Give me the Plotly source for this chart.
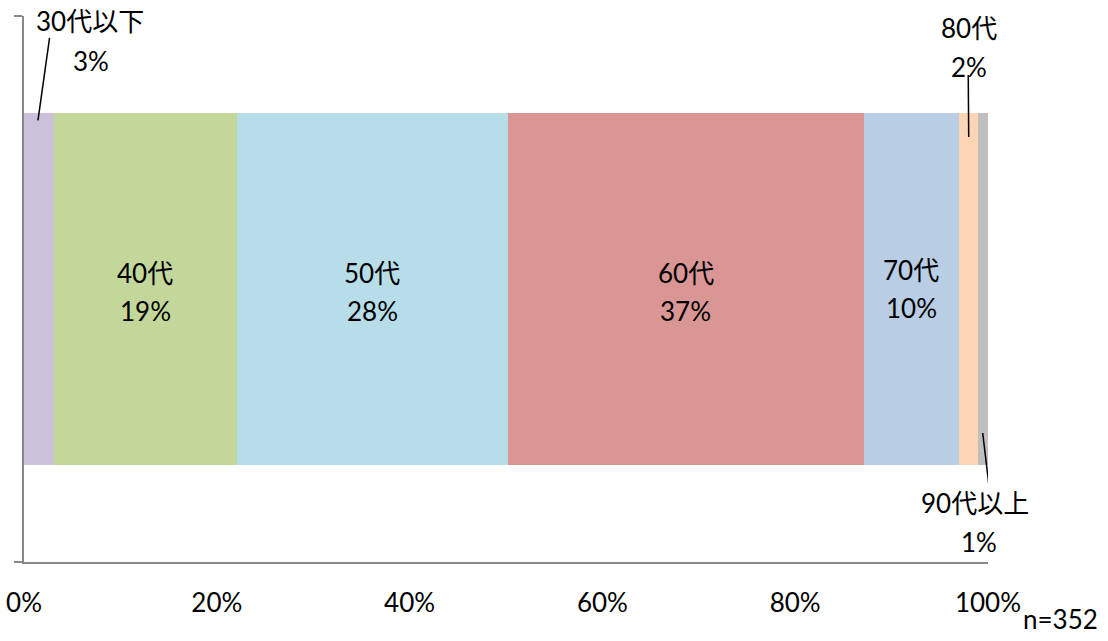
import plotly.graph_objects as go

categories = ["30代以下", "40代", "50代", "60代", "70代", "80代", "90代以上"]
values = [3.1, 19.0, 28.1, 36.9, 9.9, 2.0, 1.0]
pct_labels = ["3%", "19%", "28%", "37%", "10%", "2%", "1%"]
colors = ["#CCC1DA", "#C4D79B", "#B7DEE8", "#D99694", "#B9CDE5", "#FCD5B5", "#BFBFBF"]
x_ticks = [0, 20, 40, 60, 80, 100]
x_ticktext = ["0%", "20%", "40%", "60%", "80%", "100%"]
n_label = "n=352"

FONT = "Lato, 'Noto Sans CJK JP', sans-serif"
FS = 26
AXIS_COLOR = "#888888"
BAR_W = 0.6446

fig = go.Figure()
for cat, v, c in zip(categories, values, colors):
    fig.add_trace(go.Bar(
        y=[0], x=[v], name=cat, orientation="h", width=BAR_W,
        marker=dict(color=c, line=dict(width=0)), showlegend=False,
        hoverinfo="skip",
    ))

# segment centres computed from the data
cum = []
s = 0
for v in values:
    cum.append(s + v / 2)
    s += v

annotations = []
shapes = []

def txt(x, y, t, xref="x", yref="y"):
    annotations.append(dict(x=x, y=y, xref=xref, yref=yref, text=t, showarrow=False,
                            font=dict(family=FONT, size=FS, color="black"),
                            xanchor="center", yanchor="middle"))

# inside labels (40代..70代)
for i in range(1, 5):
    dy = 0.0 if i < 4 else 0.005
    txt(cum[i], 0.029 + dy, categories[i])
    txt(cum[i], -0.040 + dy, pct_labels[i])

# outside labels with leader lines
# 30代以下
txt(6.85, 0.4907, categories[0])
txt(6.9, 0.418, pct_labels[0])
shapes.append(dict(type="line", xref="x", yref="y", x0=cum[0] - 0.1, y0=0.309,
                   x1=cum[0] + 1.1, y1=0.46, line=dict(color="black", width=1.5)))
# 80代
txt(cum[5], 0.4789, categories[5])
txt(cum[5], 0.4066, pct_labels[5])
shapes.append(dict(type="line", xref="x", yref="y", x0=cum[5], y0=0.2784,
                   x1=cum[5] - 0.05, y1=0.392, line=dict(color="black", width=1.5)))
# 90代以上
txt(cum[6] - 0.85, -0.392, categories[6])
txt(cum[6] - 0.45, -0.4634, pct_labels[6])
shapes.append(dict(type="line", xref="x", yref="y", x0=cum[6] - 0.05, y0=-0.2637,
                   x1=cum[6] + 0.65, y1=-0.368, line=dict(color="black", width=1.5)))

# n label
annotations.append(dict(x=1.116, y=-0.137, xref="paper", yref="paper", text=n_label,
                        showarrow=False, xanchor="right", yanchor="bottom",
                        font=dict(family=FONT, size=FS, color="black")))

fig.update_layout(
    barmode="stack",
    width=1108, height=641,
    margin=dict(l=24, r=120, t=16, b=79, autoexpand=False),
    paper_bgcolor="white", plot_bgcolor="white",
    font=dict(family=FONT, size=FS, color="black"),
    annotations=annotations,
    shapes=shapes,
    xaxis=dict(range=[0, 100], tickvals=x_ticks, ticktext=x_ticktext,
               showline=True, linecolor=AXIS_COLOR, linewidth=2,
               showgrid=False, zeroline=False, ticks="", ticklabelstandoff=17,
               ticklabeloverflow="allow",
               tickfont=dict(family=FONT, size=FS, color="black"), fixedrange=True),
    yaxis=dict(range=[-0.5, 0.5], tickvals=[-0.5, 0.5], ticktext=["", ""],
               showline=True, linecolor=AXIS_COLOR, linewidth=2,
               ticks="outside", ticklen=8, tickwidth=2, tickcolor=AXIS_COLOR,
               showgrid=False, zeroline=False, fixedrange=True),
)

fig.write_html("out.html", config={"displayModeBar": False},
               post_script="document.body.style.margin='0';document.body.style.overflow='hidden';")
